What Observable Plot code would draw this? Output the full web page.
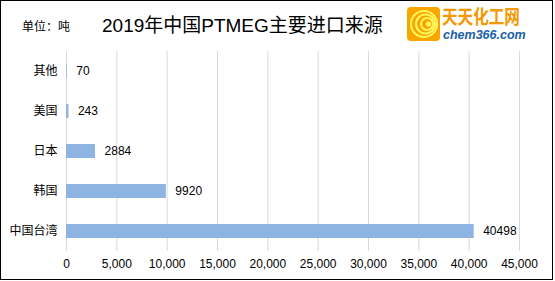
<!DOCTYPE html>
<html>
<head>
<meta charset="utf-8">
<script src="https://cdn.jsdelivr.net/npm/d3@7"></script>
<script src="https://cdn.jsdelivr.net/npm/@observablehq/plot@0.6"></script>
<style>
  html, body { margin: 0; padding: 0; background: #fff; }
  #wrap { position: relative; width: 555px; height: 281px; box-sizing: border-box; overflow: hidden; font-family: "Liberation Sans", Arial, sans-serif; }
  #frame { position: absolute; left: 0; top: 0; width: 553px; height: 280px; box-sizing: border-box; border: 1.5px solid #000; pointer-events: none; }
  #unit { position: absolute; left: 22px; top: 17px; font-size: 12px; color: #000; font-family: "Noto Sans CJK SC", sans-serif; line-height: 18px; }
  #title { position: absolute; left: 102px; top: 12px; font-size: 19px; color: #000; font-family: "Liberation Sans", "Noto Sans CJK SC", sans-serif; line-height: 28px; white-space: nowrap; }
  #logo { position: absolute; left: 407px; top: 7px; width: 115px; height: 35px; }
  #logo .t1 { position: absolute; left: 35px; top: -2px; font-size: 19px; font-weight: bold; color: #f39800; font-family: "Noto Sans CJK SC", sans-serif; line-height: 22px; white-space: nowrap; transform: scaleX(0.82); transform-origin: 0 0; }
  #logo .t2 { position: absolute; left: 36px; top: 21px; font-size: 12.5px; font-weight: bold; font-style: italic; color: #1a5fa8; font-family: "Liberation Sans", sans-serif; line-height: 14px; white-space: nowrap; }
  #chart { position: absolute; left: 0; top: 0; }
</style>
</head>
<body>
<div id="wrap">
  <div id="chart"></div>
  <div id="unit">单位：吨</div>
  <div id="title">2019年中国PTMEG主要进口来源</div>
  <div id="logo">
    <svg width="33" height="34" style="position:absolute;left:0;top:0">
      <rect x="0" y="0" width="33" height="34" rx="4" fill="#f7a600"/>
      <circle cx="17" cy="17" r="13" fill="none" stroke="#fff45a" stroke-width="2.2"/>
      <circle cx="18.5" cy="17" r="9.5" fill="none" stroke="#fff45a" stroke-width="2.2"/>
      <circle cx="20" cy="17" r="6" fill="none" stroke="#fff45a" stroke-width="2.2"/>
      <circle cx="21.5" cy="17" r="2.6" fill="#fff45a"/>
    </svg>
    <div class="t1">天天化工网</div>
    <div class="t2">chem366.com</div>
  </div>
  <div id="frame"></div>
</div>
<script>
const categories = ["其他", "美国", "日本", "韩国", "中国台湾"];
const values = [70, 243, 2884, 9920, 40498];
const xTicks = [0, 5000, 10000, 15000, 20000, 25000, 30000, 35000, 40000, 45000];

const data = categories.map((c, i) => ({category: c, value: values[i]}));

const chart = Plot.plot({
  width: 555,
  height: 281,
  marginTop: 51,
  marginBottom: 30,
  marginLeft: 66,
  marginRight: 36,
  style: {fontFamily: "Liberation Sans, Arial, sans-serif", fontSize: "12px", color: "#000", background: "transparent"},
  x: {domain: [0, 45000], ticks: xTicks, tickFormat: d3.format(","), label: null},
  y: {domain: categories, paddingInner: 0.65, paddingOuter: 0.325, label: null},
  marks: [
    Plot.ruleX(xTicks, {stroke: "#d9d9d9", strokeWidth: 1}),
    Plot.barX(data, {x: "value", y: "category", fill: "#8db4e2"}),
    Plot.text(data, {x: "value", y: "category", text: d => String(d.value), textAnchor: "start", dx: 9, fontSize: 12, fill: "#000"}),
    Plot.axisX({ticks: xTicks, tickFormat: d3.format(","), tickSize: 0, tickPadding: 8, label: null, fontSize: 12}),
    Plot.axisY({tickSize: 0, tickPadding: 9, label: null, fontSize: 12, fontFamily: "Noto Sans CJK SC, sans-serif"})
  ]
});
document.getElementById("chart").appendChild(chart);
</script>
</body>
</html>
